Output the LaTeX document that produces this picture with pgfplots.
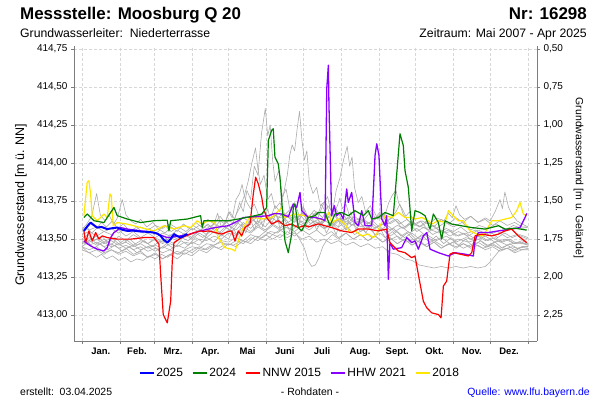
\documentclass[border=0pt]{standalone}
\usepackage{fontspec}
\setmainfont{Liberation Sans}
\usepackage{pgfplots}
\pgfplotsset{compat=1.18}
\definecolor{cblue}{RGB}{0,0,255}
\definecolor{cgreen}{RGB}{0,128,0}
\definecolor{cred}{RGB}{255,0,0}
\definecolor{cpurple}{RGB}{136,0,255}
\definecolor{cyellow}{RGB}{255,230,0}
\definecolor{cgray}{RGB}{172,172,172}
\definecolor{axgray}{RGB}{125,125,125}
\definecolor{gridgray}{RGB}{215,215,215}
\begin{document}
\begin{tikzpicture}
\useasboundingbox (0,0) rectangle (600bp,400bp);
\begin{axis}[
  at={(74bp,59bp)}, anchor=south west, scale only axis,
  width=463bp, height=295bp,
  xmin=-6.5, xmax=372.3, ymin=412.83, ymax=414.77,
  axis x line*=bottom, axis y line*=left,
  x axis line style={-}, y axis line style={-},
  axis line style={draw=axgray, line width=0.8bp},
  xtick={0,31,59,90,120,151,181,212,243,273,304,334,365},
  xticklabels={Jan.,Feb.,Mrz.,Apr.,Mai,Juni,Juli,Aug.,Sept.,Okt.,Nov.,Dez.},
  x tick label as interval,
  ytick={413,413.25,413.5,413.75,414,414.25,414.5,414.75},
  tick align=outside, major tick length=3bp,
  tick style={draw=axgray, line width=0.6bp},
  grid=major,
  grid style={draw=gridgray, line width=0.5bp, dash pattern=on 3bp off 2bp},
  /pgf/number format/assume math mode=true,
  yticklabel style={font=\fontsize{10}{12}\selectfont, /pgf/number format/.cd, fixed, fixed zerofill, precision=2, use comma, 1000 sep={}},
  xticklabel style={font=\fontsize{9.5}{11}\selectfont\bfseries},
  reverse legend,
  legend columns=-1,
  legend style={draw=none, fill=none, at={(0.488,-0.108)}, anchor=center,
    font=\fontsize{12}{14}\selectfont, inner sep=0pt,
    /tikz/every even column/.append style={column sep=7bp}},
  legend image code/.code={\draw[#1, line width=1.5bp] (0bp,0bp) -- (14bp,0bp);},
  every axis plot/.append style={line join=round},
]
% gray years
\addplot[cgray, line width=0.6bp, forget plot] coordinates {(0,413.55)(4,413.58)(8,413.54)(12,413.57)(16,413.61)(20,413.58)(25,413.62)(29,413.57)(34,413.60)(39,413.55)(45,413.58)(50,413.54)(55,413.57)(59,413.53)(64,413.56)(68,413.54)(73,413.58)(78,413.55)(83,413.60)(88,413.57)(93,413.61)(98,413.58)(103,413.63)(108,413.60)(113,413.65)(117,413.61)(121,413.68)(125,413.63)(129,413.74)(132,413.68)(135,413.82)(138,413.76)(141,413.98)(144,413.92)(147,414.20)(150,414.36)(152,414.18)(154,414.25)(156,414.02)(158,413.88)(161,413.95)(164,413.78)(167,413.83)(170,413.70)(174,413.74)(178,413.65)(182,413.70)(186,413.62)(190,413.67)(195,413.60)(200,413.64)(205,413.58)(210,413.62)(216,413.56)(222,413.60)(228,413.55)(234,413.58)(240,413.53)(246,413.57)(252,413.52)(258,413.55)(264,413.51)(270,413.54)(276,413.50)(282,413.53)(290,413.49)(298,413.52)(306,413.48)(314,413.51)(322,413.49)(330,413.52)(338,413.48)(346,413.50)(354,413.47)(360,413.49)(365,413.47)};
\addplot[cgray, line width=0.6bp, forget plot] coordinates {(0,413.50)(5,413.53)(10,413.49)(16,413.52)(21,413.48)(27,413.51)(33,413.47)(39,413.50)(45,413.46)(51,413.49)(57,413.45)(63,413.48)(69,413.50)(75,413.47)(81,413.51)(87,413.49)(93,413.54)(99,413.51)(105,413.56)(111,413.53)(117,413.58)(123,413.55)(129,413.62)(134,413.58)(139,413.64)(144,413.60)(149,413.68)(154,413.63)(158,413.72)(162,413.68)(165,413.80)(168,413.92)(170,414.05)(172,414.12)(174,414.08)(176,414.22)(178,414.34)(180,414.15)(182,414.02)(184,414.08)(186,413.88)(189,413.80)(192,413.84)(195,413.72)(199,413.75)(203,413.66)(208,413.70)(213,413.62)(219,413.65)(225,413.59)(231,413.62)(237,413.56)(243,413.59)(249,413.54)(255,413.57)(261,413.52)(267,413.55)(273,413.50)(280,413.53)(287,413.49)(294,413.51)(301,413.47)(308,413.50)(316,413.48)(324,413.50)(332,413.46)(340,413.49)(348,413.46)(356,413.48)(365,413.46)};
\addplot[cgray, line width=0.6bp, forget plot] coordinates {(0,413.45)(5,413.48)(10,413.44)(15,413.47)(21,413.43)(27,413.46)(33,413.42)(39,413.45)(45,413.41)(51,413.44)(57,413.46)(63,413.43)(69,413.47)(75,413.44)(81,413.49)(87,413.46)(93,413.51)(99,413.48)(104,413.56)(108,413.60)(111,413.67)(114,413.58)(118,413.62)(122,413.57)(126,413.66)(130,413.72)(133,413.79)(136,413.88)(139,414.00)(142,414.10)(144,413.96)(146,413.86)(149,413.92)(152,413.76)(155,413.80)(158,413.70)(162,413.74)(166,413.66)(171,413.70)(176,413.62)(181,413.66)(187,413.60)(193,413.63)(199,413.57)(205,413.60)(211,413.55)(217,413.58)(223,413.53)(230,413.56)(237,413.51)(244,413.54)(251,413.49)(258,413.52)(265,413.48)(272,413.50)(280,413.46)(288,413.49)(296,413.45)(304,413.48)(312,413.44)(320,413.47)(328,413.44)(336,413.46)(344,413.43)(352,413.45)(360,413.43)(365,413.44)};
\addplot[cgray, line width=0.6bp, forget plot] coordinates {(0,413.48)(6,413.51)(12,413.47)(18,413.50)(24,413.46)(30,413.52)(36,413.49)(42,413.53)(48,413.50)(54,413.47)(60,413.51)(66,413.48)(72,413.53)(78,413.50)(84,413.54)(90,413.51)(96,413.56)(102,413.53)(108,413.57)(114,413.54)(120,413.59)(126,413.56)(132,413.61)(138,413.57)(144,413.62)(150,413.58)(156,413.64)(162,413.60)(168,413.66)(174,413.61)(180,413.67)(186,413.62)(192,413.68)(197,413.64)(201,413.72)(205,413.68)(208,413.82)(211,413.90)(214,414.02)(217,414.11)(219,413.98)(221,414.04)(223,413.84)(226,413.74)(229,413.78)(232,413.68)(236,413.72)(240,413.63)(245,413.67)(250,413.60)(256,413.63)(262,413.57)(268,413.60)(274,413.55)(280,413.58)(287,413.53)(294,413.56)(301,413.52)(308,413.55)(316,413.52)(324,413.56)(332,413.53)(340,413.55)(348,413.51)(356,413.53)(365,413.50)};
\addplot[cgray, line width=0.6bp, forget plot] coordinates {(0,413.56)(4,413.60)(8,413.65)(12,413.80)(15,413.66)(19,413.62)(22,413.66)(26,413.60)(29,413.64)(33,413.76)(36,413.66)(40,413.62)(44,413.60)(48,413.63)(53,413.58)(58,413.61)(63,413.56)(68,413.59)(73,413.55)(79,413.58)(85,413.55)(91,413.59)(97,413.56)(103,413.60)(109,413.55)(115,413.59)(121,413.56)(127,413.61)(133,413.57)(139,413.63)(145,413.59)(151,413.64)(157,413.60)(163,413.66)(169,413.61)(175,413.65)(181,413.60)(187,413.63)(193,413.58)(199,413.62)(205,413.59)(211,413.64)(217,413.60)(223,413.65)(229,413.61)(234,413.66)(238,413.70)(242,413.63)(247,413.66)(252,413.60)(258,413.63)(264,413.58)(270,413.62)(276,413.58)(283,413.61)(290,413.57)(297,413.61)(304,413.58)(311,413.61)(318,413.56)(325,413.59)(332,413.57)(339,413.60)(346,413.56)(353,413.59)(360,413.57)(365,413.58)};
\addplot[cgray, line width=0.6bp, forget plot] coordinates {(0,413.52)(6,413.49)(12,413.52)(18,413.48)(24,413.51)(30,413.47)(36,413.50)(42,413.46)(48,413.49)(54,413.47)(60,413.50)(66,413.47)(72,413.51)(78,413.49)(84,413.53)(90,413.50)(96,413.54)(102,413.51)(108,413.55)(114,413.52)(120,413.56)(126,413.53)(132,413.58)(138,413.55)(144,413.59)(150,413.56)(156,413.60)(162,413.57)(168,413.61)(174,413.58)(180,413.62)(186,413.58)(192,413.61)(198,413.57)(204,413.60)(210,413.63)(216,413.59)(222,413.62)(228,413.58)(234,413.61)(240,413.57)(246,413.60)(252,413.56)(258,413.59)(264,413.57)(270,413.61)(276,413.58)(282,413.62)(288,413.58)(294,413.63)(300,413.60)(306,413.64)(312,413.61)(318,413.65)(324,413.61)(330,413.64)(334,413.62)(338,413.68)(342,413.76)(344,413.70)(346,413.81)(349,413.71)(352,413.66)(356,413.62)(360,413.60)(365,413.58)};
\addplot[cgray, line width=0.6bp, forget plot] coordinates {(0,413.45)(6,413.43)(12,413.45)(18,413.41)(24,413.43)(30,413.40)(36,413.42)(42,413.39)(48,413.41)(54,413.38)(60,413.40)(66,413.37)(72,413.40)(78,413.42)(84,413.40)(90,413.43)(96,413.45)(102,413.43)(108,413.46)(114,413.48)(120,413.46)(126,413.49)(132,413.47)(138,413.51)(144,413.49)(150,413.53)(156,413.50)(162,413.53)(168,413.51)(174,413.54)(180,413.50)(186,413.52)(192,413.48)(198,413.50)(204,413.47)(210,413.49)(216,413.46)(222,413.48)(228,413.45)(234,413.47)(240,413.44)(246,413.45)(252,413.41)(258,413.40)(264,413.37)(270,413.36)(276,413.33)(282,413.32)(288,413.31)(294,413.32)(300,413.31)(306,413.32)(312,413.31)(318,413.32)(324,413.31)(330,413.32)(334,413.35)(338,413.39)(342,413.43)(348,413.44)(354,413.42)(360,413.45)(365,413.45)};
\addplot[cgray, line width=0.6bp, forget plot] coordinates {(0,413.48)(6,413.46)(12,413.48)(18,413.45)(24,413.47)(30,413.44)(36,413.46)(42,413.43)(48,413.45)(54,413.42)(60,413.44)(66,413.41)(72,413.43)(78,413.40)(84,413.43)(90,413.45)(96,413.44)(102,413.47)(108,413.46)(114,413.49)(120,413.48)(126,413.51)(132,413.49)(138,413.53)(144,413.51)(150,413.55)(156,413.53)(162,413.56)(168,413.53)(174,413.55)(178,413.50)(182,413.44)(185,413.36)(188,413.32)(191,413.33)(194,413.38)(197,413.45)(200,413.49)(205,413.53)(210,413.50)(216,413.54)(222,413.50)(228,413.53)(234,413.49)(240,413.52)(246,413.48)(252,413.51)(258,413.47)(264,413.50)(270,413.46)(276,413.49)(282,413.45)(288,413.48)(294,413.44)(300,413.47)(306,413.45)(312,413.47)(318,413.44)(324,413.46)(330,413.43)(336,413.45)(342,413.42)(348,413.44)(354,413.41)(360,413.43)(365,413.43)};
\addplot[cgray, line width=0.6bp, forget plot] coordinates {(0,413.45)(4,413.42)(8,413.40)(12,413.38)(16,413.40)(20,413.37)(25,413.39)(30,413.36)(35,413.38)(40,413.35)(45,413.37)(50,413.36)(55,413.39)(60,413.37)(65,413.40)(70,413.38)(75,413.41)(80,413.40)(85,413.43)(90,413.41)(95,413.44)(100,413.43)(106,413.46)(112,413.44)(118,413.47)(124,413.46)(130,413.49)(136,413.48)(142,413.52)(148,413.51)(154,413.55)(160,413.54)(166,413.58)(172,413.56)(178,413.60)(184,413.58)(190,413.62)(196,413.60)(202,413.65)(206,413.67)(209,413.72)(211,413.77)(213,413.70)(216,413.73)(219,413.65)(223,413.62)(228,413.64)(233,413.60)(238,413.62)(243,413.58)(248,413.61)(253,413.64)(257,413.68)(260,413.73)(263,413.66)(267,413.62)(272,413.60)(278,413.58)(284,413.56)(290,413.57)(296,413.54)(302,413.55)(308,413.52)(314,413.54)(320,413.51)(326,413.52)(332,413.49)(338,413.51)(344,413.48)(350,413.50)(356,413.47)(365,413.47)};
\addplot[cgray, line width=0.6bp, forget plot] coordinates {(0,413.50)(6,413.48)(12,413.50)(18,413.47)(24,413.49)(30,413.46)(36,413.48)(42,413.45)(48,413.47)(54,413.44)(60,413.46)(66,413.44)(72,413.47)(78,413.45)(84,413.48)(90,413.47)(96,413.50)(102,413.49)(108,413.52)(114,413.50)(120,413.54)(126,413.52)(132,413.56)(138,413.54)(144,413.58)(150,413.55)(156,413.59)(162,413.56)(168,413.58)(174,413.55)(180,413.59)(186,413.56)(192,413.60)(198,413.57)(204,413.61)(210,413.58)(216,413.62)(222,413.59)(228,413.63)(234,413.60)(240,413.64)(244,413.68)(248,413.66)(251,413.74)(254,413.79)(257,413.82)(259,413.74)(262,413.70)(265,413.65)(268,413.68)(272,413.60)(277,413.62)(282,413.57)(288,413.59)(294,413.54)(300,413.56)(306,413.52)(312,413.54)(318,413.50)(324,413.52)(330,413.49)(336,413.51)(342,413.48)(348,413.50)(354,413.47)(360,413.48)(365,413.46)};
\addplot[cgray, line width=0.6bp, forget plot] coordinates {(0,413.53)(6,413.55)(12,413.52)(18,413.55)(24,413.53)(30,413.56)(36,413.52)(42,413.55)(48,413.51)(54,413.54)(60,413.51)(66,413.54)(72,413.52)(78,413.56)(84,413.53)(90,413.57)(96,413.55)(102,413.59)(108,413.57)(113,413.62)(117,413.60)(120,413.68)(123,413.64)(126,413.76)(129,413.80)(131,413.86)(133,413.78)(135,413.74)(138,413.70)(141,413.73)(145,413.65)(149,413.68)(153,413.62)(158,413.66)(163,413.61)(168,413.65)(173,413.61)(178,413.66)(183,413.62)(188,413.67)(193,413.64)(197,413.72)(201,413.78)(203,413.70)(206,413.66)(210,413.62)(215,413.65)(220,413.59)(226,413.62)(232,413.57)(238,413.60)(244,413.56)(250,413.59)(256,413.55)(262,413.58)(268,413.54)(274,413.57)(280,413.53)(286,413.56)(292,413.54)(298,413.57)(304,413.55)(310,413.58)(316,413.54)(322,413.56)(328,413.52)(334,413.55)(340,413.51)(346,413.54)(352,413.51)(358,413.53)(365,413.51)};
\addplot[cgray, line width=0.6bp, forget plot] coordinates {(0,413.58)(6,413.56)(12,413.58)(18,413.55)(24,413.57)(30,413.54)(36,413.57)(42,413.55)(48,413.58)(54,413.56)(60,413.59)(66,413.57)(72,413.60)(78,413.57)(84,413.59)(90,413.56)(96,413.59)(102,413.57)(108,413.60)(114,413.58)(120,413.62)(126,413.60)(132,413.64)(138,413.61)(144,413.65)(150,413.63)(156,413.67)(162,413.64)(168,413.66)(174,413.63)(180,413.67)(186,413.65)(190,413.69)(193,413.66)(196,413.73)(199,413.68)(202,413.64)(207,413.66)(212,413.61)(218,413.64)(224,413.60)(230,413.63)(236,413.60)(242,413.65)(248,413.61)(254,413.64)(260,413.60)(266,413.63)(272,413.59)(278,413.62)(284,413.60)(290,413.64)(296,413.62)(300,413.67)(303,413.64)(306,413.72)(309,413.66)(313,413.63)(318,413.65)(324,413.61)(330,413.63)(336,413.59)(342,413.62)(348,413.59)(354,413.61)(360,413.58)(365,413.58)};
\addplot[cgray, line width=0.6bp, forget plot] coordinates {(0,413.43)(6,413.41)(12,413.43)(18,413.40)(24,413.43)(30,413.41)(36,413.44)(42,413.40)(48,413.42)(54,413.38)(60,413.41)(66,413.37)(72,413.40)(78,413.37)(84,413.41)(90,413.39)(96,413.43)(102,413.41)(108,413.45)(114,413.43)(120,413.47)(126,413.45)(132,413.49)(138,413.47)(144,413.51)(150,413.49)(156,413.53)(162,413.51)(168,413.55)(174,413.52)(180,413.56)(186,413.53)(192,413.56)(198,413.52)(204,413.55)(210,413.51)(216,413.54)(222,413.50)(228,413.53)(234,413.49)(240,413.52)(246,413.48)(252,413.51)(258,413.47)(264,413.50)(270,413.46)(276,413.49)(282,413.45)(288,413.48)(294,413.44)(300,413.47)(306,413.44)(312,413.47)(318,413.45)(324,413.48)(330,413.45)(336,413.47)(342,413.44)(348,413.46)(354,413.43)(360,413.45)(365,413.45)};
\addplot[cgray, line width=0.6bp, forget plot] coordinates {(0,413.47)(6,413.49)(12,413.46)(18,413.48)(24,413.45)(30,413.47)(36,413.44)(42,413.46)(48,413.43)(54,413.45)(60,413.42)(66,413.45)(72,413.43)(78,413.46)(84,413.44)(90,413.48)(96,413.46)(102,413.51)(108,413.48)(114,413.53)(120,413.50)(124,413.57)(127,413.52)(131,413.60)(134,413.54)(138,413.63)(141,413.56)(145,413.66)(148,413.58)(152,413.70)(155,413.60)(159,413.67)(162,413.57)(166,413.63)(170,413.55)(174,413.66)(177,413.58)(181,413.72)(184,413.60)(188,413.65)(192,413.56)(196,413.62)(200,413.54)(204,413.60)(208,413.53)(212,413.64)(216,413.56)(220,413.68)(224,413.56)(228,413.61)(232,413.54)(236,413.59)(240,413.52)(244,413.57)(248,413.51)(254,413.55)(260,413.50)(266,413.54)(272,413.49)(278,413.53)(284,413.48)(290,413.52)(296,413.47)(302,413.51)(308,413.46)(314,413.50)(320,413.45)(326,413.49)(332,413.45)(338,413.48)(344,413.44)(350,413.47)(356,413.44)(365,413.45)};
% 2018
\addplot[cyellow, line width=1.2bp] coordinates {(1.6,413.654)(4.3,413.874)(5.7,413.884)(7.1,413.797)(8.4,413.654)(12.5,413.621)(18.0,413.665)(20.7,413.642)(22.9,413.797)(24.0,413.786)(25.6,413.588)(28.9,413.609)(37.1,413.599)(48.0,413.576)(58.9,413.554)(67.1,413.588)(75.3,413.566)(83.5,413.588)(89.0,413.576)(94.4,413.621)(98.0,413.599)(103.4,413.621)(108.8,413.609)(111.5,413.510)(117.0,413.444)(122.5,413.434)(125.2,413.422)(127.9,413.488)(130.7,413.554)(136.1,413.632)(141.6,413.642)(147.1,413.632)(155.2,413.642)(163.4,413.708)(166.1,413.642)(174.3,413.665)(182.5,413.654)(190.7,413.642)(198.9,413.621)(201.6,413.675)(204.3,413.609)(209.7,413.632)(215.2,413.599)(219.3,413.543)(223.4,413.554)(228.9,413.521)(234.3,413.533)(238.4,413.510)(241.2,413.533)(243.9,413.588)(248.0,413.654)(253.4,413.642)(258.8,413.675)(264.3,413.642)(269.8,413.642)(272.5,413.632)(278.0,413.642)(283.4,413.621)(286.2,413.599)(291.6,413.621)(297.1,413.609)(299.8,413.687)(303.8,413.654)(307.9,413.621)(312.0,413.621)(317.5,413.554)(323.0,413.533)(327.1,413.521)(329.8,413.543)(335.3,413.621)(340.7,413.621)(346.2,413.632)(351.6,413.642)(355.7,413.687)(358.4,413.741)(361.1,413.665)(363.9,413.654)};
\addlegendentry{2018}
% HHW 2021
\addplot[cpurple, line width=1.3bp] coordinates {(1.6,413.488)(7.1,413.455)(12.5,413.434)(18.0,413.422)(20.7,413.444)(23.5,413.510)(26.2,413.543)(31.7,413.576)(37.1,413.566)(48.0,413.554)(58.9,413.543)(69.8,413.510)(75.3,413.515)(86.2,413.528)(97.1,413.554)(108.8,413.576)(119.7,413.588)(127.9,413.621)(132.0,413.642)(141.6,413.647)(152.5,413.654)(157.9,413.669)(163.4,413.665)(168.8,413.647)(172.9,413.731)(175.7,413.708)(178.4,413.807)(179.8,413.687)(185.2,413.642)(190.7,413.642)(196.2,413.632)(198.9,413.621)(200.3,414.490)(201.6,414.644)(202.1,414.380)(204.3,413.654)(206.5,413.720)(208.4,413.654)(211.1,413.675)(213.8,413.632)(216.6,413.830)(217.9,413.741)(220.7,413.807)(223.4,413.609)(226.1,413.588)(228.9,413.687)(231.6,413.588)(237.1,413.588)(239.8,414.050)(241.2,414.127)(243.0,414.050)(245.3,413.632)(248.0,413.588)(249.3,413.654)(250.7,413.236)(252.0,413.477)(254.7,413.434)(261.6,413.444)(265.7,413.510)(269.8,413.477)(272.5,413.488)(275.2,413.434)(279.3,413.521)(282.1,413.543)(284.8,413.434)(291.6,413.411)(299.8,413.389)(305.2,413.411)(313.4,413.401)(320.2,413.389)(321.6,413.488)(324.3,413.543)(332.5,413.543)(340.7,413.554)(351.6,413.566)(358.4,413.576)(362.5,413.642)(363.9,413.669)};
\addlegendentry{HHW 2021}
% NNW 2015
\addplot[cred, line width=1.2bp] coordinates {(1.6,413.554)(3.0,413.477)(5.7,413.554)(8.4,413.488)(11.2,413.543)(13.9,413.500)(16.6,413.521)(20.7,413.510)(28.9,413.500)(39.9,413.500)(50.7,413.510)(58.9,413.510)(63.0,413.467)(64.4,413.268)(66.5,413.004)(69.8,412.949)(72.6,413.092)(73.9,413.356)(75.3,413.477)(80.8,413.506)(91.7,413.543)(97.1,413.554)(99.8,413.550)(103.4,413.554)(114.3,413.533)(119.7,413.550)(122.5,413.554)(125.2,413.488)(127.9,413.554)(130.7,413.521)(133.4,413.576)(137.5,413.599)(140.2,413.797)(142.1,413.907)(144.3,413.863)(147.1,413.774)(148.4,413.708)(151.1,413.642)(155.2,413.599)(160.6,413.621)(166.1,413.588)(171.6,413.599)(177.0,413.576)(182.5,413.590)(185.2,413.580)(193.4,413.600)(204.3,413.576)(212.5,413.554)(220.7,413.543)(226.1,413.566)(234.3,413.566)(242.5,413.554)(249.3,413.566)(252.0,413.477)(258.8,413.422)(264.3,413.411)(269.8,413.378)(272.5,413.389)(275.2,413.268)(279.3,413.092)(282.1,413.048)(286.2,413.015)(291.6,413.004)(293.8,412.982)(295.7,413.191)(298.4,413.224)(301.1,413.401)(303.8,413.411)(309.3,413.401)(316.1,413.389)(318.9,413.411)(321.6,413.521)(327.1,413.533)(335.3,413.521)(340.7,413.533)(346.2,413.554)(351.6,413.566)(357.0,413.521)(363.9,413.477)};
\addlegendentry{NNW 2015}
% 2024
\addplot[cgreen, line width=1.2bp] coordinates {(1.6,413.642)(4.3,413.665)(9.8,413.621)(18.0,413.609)(26.2,413.708)(28.9,413.654)(37.1,413.632)(48.0,413.609)(58.9,413.621)(69.8,413.625)(71.2,413.554)(72.6,413.621)(86.2,413.632)(97.1,413.654)(98.4,413.576)(99.8,413.621)(108.8,413.621)(119.7,413.621)(127.9,413.632)(141.6,413.654)(147.1,413.665)(151.1,413.708)(152.5,414.149)(155.2,414.215)(156.5,414.226)(157.9,414.039)(160.6,413.995)(162.0,413.907)(164.7,413.621)(166.1,413.488)(168.8,413.411)(171.6,413.533)(172.9,413.708)(174.3,413.731)(177.0,413.576)(179.8,413.554)(185.2,413.642)(190.7,413.654)(193.4,413.675)(198.9,413.675)(202.9,413.588)(207.0,413.665)(212.5,413.675)(217.9,413.654)(223.4,413.687)(230.2,413.654)(234.3,413.687)(237.1,413.632)(242.5,413.642)(248.0,413.675)(254.7,413.654)(256.1,413.786)(260.2,414.193)(262.9,414.116)(264.3,413.951)(267.0,413.841)(269.8,413.554)(272.5,413.687)(276.6,413.675)(280.7,413.654)(284.8,413.566)(287.5,413.665)(291.6,413.609)(294.3,413.500)(297.1,413.621)(302.5,413.599)(318.9,413.576)(329.8,413.566)(340.7,413.588)(346.2,413.566)(354.3,413.572)(363.9,413.559)};
\addlegendentry{2024}
% 2025
\addplot[cblue, line width=2bp] coordinates {(1.6,413.554)(4.5,413.585)(7.1,413.609)(10,413.590)(12.5,413.576)(16,413.580)(20.7,413.566)(25,413.572)(28.9,413.576)(33,413.562)(37.1,413.554)(42,413.556)(48.0,413.550)(53,413.548)(58.9,413.543)(62,413.535)(64.4,413.521)(67,413.495)(69.8,413.477)(72.6,413.500)(75.3,413.533)(78,413.520)(80.8,413.510)(84,413.525)(86.2,413.533)};
\addlegendentry{2025}
\end{axis}
\begin{axis}[
  at={(74bp,59bp)}, anchor=south west, scale only axis,
  width=463bp, height=295bp,
  xmin=-6.5, xmax=372.3, ymin=0.48, ymax=2.42, y dir=reverse,
  axis y line*=right, axis x line=none,
  y axis line style={-, draw=axgray, line width=0.8bp},
  ytick={0.5,0.75,1,1.25,1.5,1.75,2,2.25},
  tick align=outside, major tick length=3bp,
  tick style={draw=axgray, line width=0.6bp},
  /pgf/number format/assume math mode=true,
  yticklabel style={font=\fontsize{10}{12}\selectfont, /pgf/number format/.cd, fixed, fixed zerofill, precision=2, use comma},
]
\addplot[draw=none] coordinates {(0,1)};
\end{axis}
\node[anchor=base west, inner sep=0, font=\fontsize{17}{20}\selectfont\bfseries] at (20bp,380bp) {Messstelle: Moosburg Q 20};
\node[anchor=base east, inner sep=0, font=\fontsize{17}{20}\selectfont\bfseries] at (587bp,380bp) {Nr: 16298};
\node[anchor=base west, inner sep=0, font=\fontsize{12.3}{14}\selectfont] at (20bp,362bp) {Grundwasserleiter:\ \ Niederterrasse};
\node[anchor=base east, inner sep=0, font=\fontsize{12.3}{14}\selectfont] at (587bp,362bp) {Zeitraum: Mai 2007 - Apr 2025};
\node[rotate=90, inner sep=0, font=\fontsize{12.5}{14}\selectfont] at (21bp,195bp) {Grundwasserstand [m ü. NN]};
\node[rotate=-90, inner sep=0, font=\fontsize{10.5}{12}\selectfont] at (578.5bp,222bp) {Grundwasserstand [m u. Gelände]};
\node[anchor=base west, inner sep=0, font=\fontsize{10.5}{12}\selectfont] at (20bp,5bp) {erstellt:\ \ 03.04.2025};
\node[anchor=base, inner sep=0, font=\fontsize{10.5}{12}\selectfont] at (310bp,5bp) {- Rohdaten -};
\node[anchor=base east, inner sep=0, font=\fontsize{10.5}{12}\selectfont, text=cblue] at (590bp,5bp) {Quelle: www.lfu.bayern.de};
\end{tikzpicture}
\end{document}
